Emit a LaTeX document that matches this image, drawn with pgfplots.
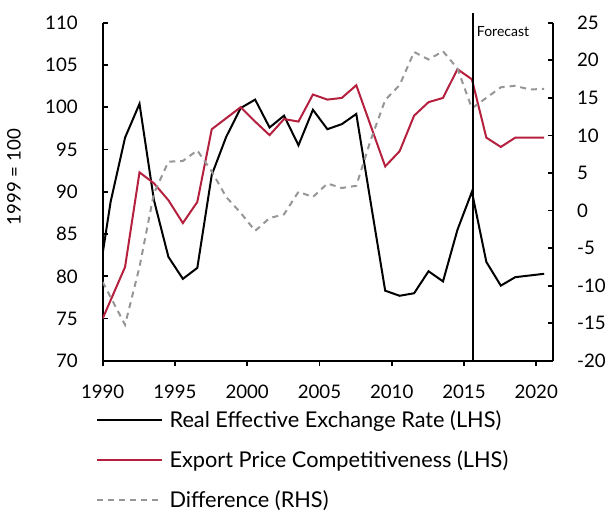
\documentclass[border=0pt]{standalone}
\usepackage{pgfplots}
\pgfplotsset{compat=1.18}
\usepackage{fontspec}
\setmainfont{Lato}
\usetikzlibrary{calc}
\definecolor{crim}{RGB}{181,32,62}
\definecolor{gry}{RGB}{150,150,150}
\begin{document}
\begin{tikzpicture}[font=\fontsize{14}{16}\selectfont]
\pgfplotsset{
  base/.style={
    width=338pt, height=253.7pt, scale only axis,
    xmin=1990, xmax=2021.18,
    xtick={1990,1995,...,2020},
    /pgf/number format/assume math mode=true,
    /pgf/number format/1000 sep={},
    tick label style={font=\fontsize{14}{16}\selectfont},
    tick align=inside,
    major tick length=4pt,
    axis line style={line width=1.4pt},
    every tick/.style={black, line width=1.3pt},
  }
}
\begin{axis}[base,
  ymin=70, ymax=110, ytick={70,75,...,110},
  axis y line*=left, axis x line*=bottom,
  xtick style={yshift=-4pt},
  xticklabel style={inner sep=0pt, anchor=north, yshift=-17.5pt},
  yticklabel style={inner sep=0pt, anchor=east, xshift=-18.5pt},
  ylabel={1999 = 100},
  ylabel style={at={(axis description cs:-0.1967,0.5434)}, anchor=center, font=\fontsize{14}{16}\selectfont},
  legend style={at={(axis description cs:-0.0148,-0.147)}, anchor=north west, draw=none, fill=none, inner sep=0pt,
    legend cell align=left, row sep=15.6pt, column sep=5pt,
    nodes={inner sep=0pt, font=\fontsize{16.3}{18}\selectfont}},
  legend image code/.code={\draw[#1] (0pt,0pt) -- (48.5pt,0pt);},
]
\coordinate (bl) at (rel axis cs:0,0);
\coordinate (tr) at (rel axis cs:1,1);
\coordinate (fb) at (axis cs:2015.65,70);
\coordinate (ft) at (axis cs:2015.65,111.1);
\addplot[black, line width=1.5pt] coordinates {
(1990,82.7) (1990.55,88.8) (1991.55,96.4) (1992.55,100.4) (1993.55,89.0) (1994.55,82.3)
(1995.55,79.7) (1996.55,81.0) (1997.55,92.0) (1998.55,96.5) (1999.55,99.9) (2000.55,100.9)
(2001.55,97.6) (2002.55,99.0) (2003.55,95.5) (2004.55,99.7) (2005.55,97.4) (2006.55,98.0)
(2007.55,99.2) (2008.55,88.7) (2009.55,78.3) (2010.55,77.7) (2011.55,78.0) (2012.55,80.6)
(2013.55,79.4) (2014.55,85.5) (2015.55,90.0) (2016.55,81.7) (2017.55,78.9) (2018.55,79.9)
(2019.55,80.1) (2020.55,80.3)};
\addlegendentry{Real Effective Exchange Rate (LHS)}
\addplot[crim, line width=1.5pt] coordinates {
(1990,75.0) (1991.55,81.1) (1992.55,92.3) (1993.55,91.0) (1994.55,89.0)
(1995.55,86.3) (1996.55,88.8) (1997.55,97.4) (1998.55,98.7) (1999.55,100.0) (2000.55,98.3)
(2001.55,96.7) (2002.55,98.6) (2003.55,98.3) (2004.55,101.5) (2005.55,100.9) (2006.55,101.1)
(2007.55,102.6) (2008.55,97.8) (2009.55,93.0) (2010.55,94.8) (2011.55,99.0) (2012.55,100.6)
(2013.55,101.1) (2014.55,104.5) (2015.55,103.3) (2016.55,96.4) (2017.55,95.3) (2018.55,96.4)
(2019.55,96.4) (2020.55,96.4)};
\addlegendentry{Export Price Competitiveness (LHS)}
\addlegendimage{gry, line width=1.5pt, dash pattern=on 4.5pt off 3.7pt}
\addlegendentry{Difference (RHS)}
\end{axis}
\begin{axis}[base,
  ymin=-20, ymax=25, ytick={-20,-15,...,25},
  axis y line*=right, axis x line=none,
  yticklabel style={inner sep=0pt, anchor=west, xshift=17.7pt},
]
\addplot[gry, line width=1.5pt, dash pattern=on 4.5pt off 3.7pt] coordinates {
(1990,-9.5) (1991.55,-15.2) (1992.55,-7.5) (1993.55,2.3) (1994.55,6.5)
(1995.55,6.6) (1996.55,8.0) (1997.55,5.2) (1998.55,1.8) (1999.55,-0.3) (2000.55,-2.7)
(2001.55,-1.0) (2002.55,-0.5) (2003.55,2.5) (2004.55,1.8) (2005.55,3.6) (2006.55,3.0)
(2007.55,3.3) (2008.55,9.4) (2009.55,14.7) (2010.55,16.7) (2011.55,21.1) (2012.55,20.1)
(2013.55,21.2) (2014.55,18.9) (2015.55,13.6) (2016.55,15.0) (2017.55,16.4) (2018.55,16.6)
(2019.55,16.1) (2020.55,16.2)};
\end{axis}
\draw[black, line width=1.4pt] (fb) -- (ft);
\node[anchor=base west, inner sep=0pt, font=\fontsize{10.5}{12}\selectfont] at ($(ft)+(2.5pt,-17.5pt)$) {Forecast};
\pgfresetboundingbox
\path[use as bounding box] ($(bl)+(-77pt,-113.25pt)$) rectangle ($(tr)+(38.8pt,17pt)$);
\end{tikzpicture}
\end{document}
